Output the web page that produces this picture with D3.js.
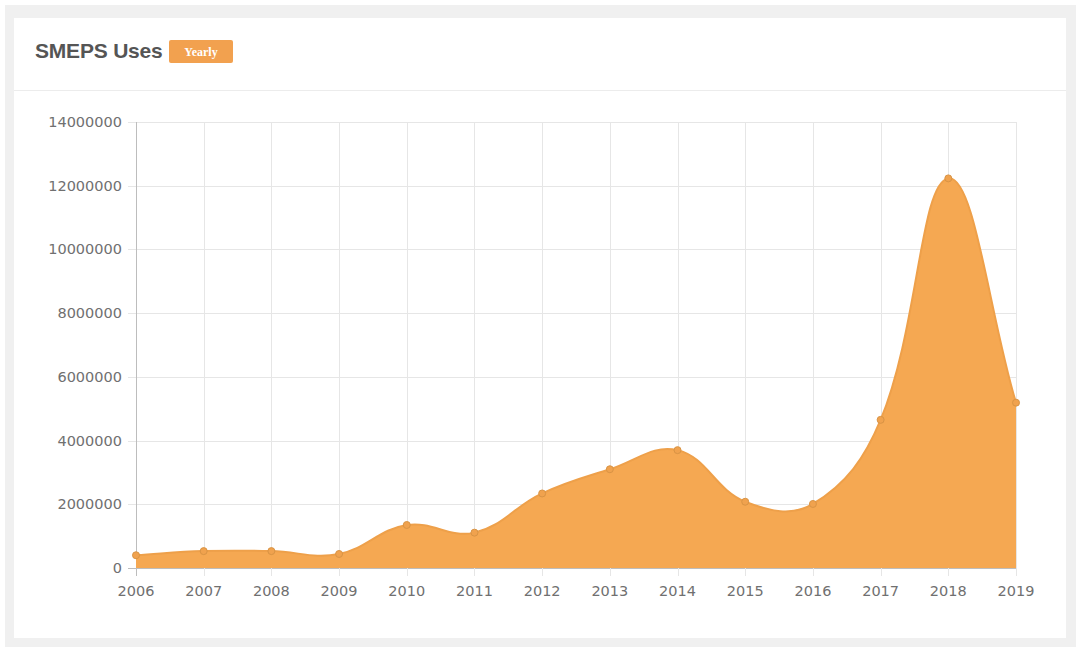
<!DOCTYPE html>
<html>
<head>
<meta charset="utf-8">
<script src="https://cdn.jsdelivr.net/npm/d3@7"></script>
<style>
html,body{margin:0;padding:0;background:#fff;}
svg{display:block;}
</style>
</head>
<body>
<svg id="chart" width="1076" height="650"></svg>
<script>
const years = ["2006","2007","2008","2009","2010","2011","2012","2013","2014","2015","2016","2017","2018","2019"];
const uses = [400000, 530000, 530000, 440000, 1350000, 1110000, 2340000, 3100000, 3700000, 2080000, 2010000, 4650000, 12230000, 5190000];
const yTicks = [0, 2000000, 4000000, 6000000, 8000000, 10000000, 12000000, 14000000];
const chartTitle = "SMEPS Uses";
const badgeText = "Yearly";

(function () {
const svg = d3.select("#chart");
const W = 1076, H = 650;
const fillColor = "#f5a852";
const lineColor = "#eea04a";
const tickFont = "DejaVu Sans, Verdana, sans-serif";

// page background and card
svg.append("rect").attr("x",0).attr("y",0).attr("width",W).attr("height",H).attr("fill","#fff");
svg.append("rect").attr("x",5).attr("y",5).attr("width",W-5).attr("height",H-8).attr("fill","#f0f0f0");
svg.append("rect").attr("x",14).attr("y",18).attr("width",1052).attr("height",620).attr("fill","#fff");
svg.append("line").attr("x1",14).attr("x2",1066).attr("y1",90.5).attr("y2",90.5).attr("stroke","#ececec").attr("stroke-width",1);

// header
svg.append("text").attr("x",35).attr("y",58).text(chartTitle)
  .attr("font-family","Liberation Sans, Arial, sans-serif").attr("font-size",21).attr("font-weight","bold").attr("fill","#555").attr("letter-spacing","-0.2");
svg.append("rect").attr("x",169).attr("y",40).attr("width",64).attr("height",23).attr("rx",2).attr("fill","#f2a14f");
svg.append("text").attr("x",201).attr("y",56).attr("text-anchor","middle").text(badgeText)
  .attr("font-family","Liberation Serif, serif").attr("font-size",12).attr("font-weight","bold").attr("fill","#fff");

const pL = 136, pR = 1016, pT = 122, pB = 568;
const x = d3.scalePoint().domain(years).range([pL, pR]);
const y = d3.scaleLinear().domain([0, 14000000]).range([pB, pT]);

// grid
const g = svg.append("g");
g.selectAll(".hg").data(yTicks).enter().append("line")
  .attr("x1", pL - 8).attr("x2", pR)
  .attr("y1", d => Math.round(y(d)) + 0.5).attr("y2", d => Math.round(y(d)) + 0.5)
  .attr("stroke", d => d === 0 ? "#bdbdbd" : "#e6e6e6").attr("stroke-width",1);
g.selectAll(".vg").data(years).enter().append("line")
  .attr("x1", d => Math.round(x(d)) + 0.5).attr("x2", d => Math.round(x(d)) + 0.5)
  .attr("y1", pT).attr("y2", pB + 8)
  .attr("stroke", (d,i) => i === 0 ? "#bdbdbd" : "#e6e6e6").attr("stroke-width",1);

// tick labels
g.selectAll(".yl").data(yTicks).enter().append("text")
  .attr("x", pL - 14).attr("y", d => y(d) + 5)
  .attr("text-anchor","end").text(d => d3.format("d")(d))
  .attr("font-family",tickFont).attr("font-size",14.5).attr("fill","#707070");
g.selectAll(".xl").data(years).enter().append("text")
  .attr("x", d => x(d)).attr("y", pB + 28)
  .attr("text-anchor","middle").text(d => d)
  .attr("font-family",tickFont).attr("font-size",14.5).attr("fill","#707070");

// Chart.js-style spline (tension 0.4)
const pts = years.map((yr,i) => [x(yr), y(uses[i])]);
const tension = 0.4;
const ctrl = pts.map((p,i) => {
  const prev = pts[i-1] || p, next = pts[i+1] || p;
  const d01 = Math.hypot(p[0]-prev[0], p[1]-prev[1]);
  const d12 = Math.hypot(next[0]-p[0], next[1]-p[1]);
  let s01 = d01/(d01+d12), s12 = d12/(d01+d12);
  if (isNaN(s01)) s01 = 0; if (isNaN(s12)) s12 = 0;
  const fa = tension*s01, fb = tension*s12;
  const cp = [p[0]-fa*(next[0]-prev[0]), p[1]-fa*(next[1]-prev[1])];
  const cn = [p[0]+fb*(next[0]-prev[0]), p[1]+fb*(next[1]-prev[1])];
  const cap = c => [Math.max(pL, Math.min(pR, c[0])), Math.max(pT, Math.min(pB, c[1]))];
  return {prev: cap(cp), next: cap(cn)};
});
function buildPath(close) {
  const p = d3.path();
  p.moveTo(pts[0][0], pts[0][1]);
  for (let i = 1; i < pts.length; i++) {
    const a = ctrl[i-1].next, b = ctrl[i].prev;
    p.bezierCurveTo(a[0], a[1], b[0], b[1], pts[i][0], pts[i][1]);
  }
  if (close) {
    p.lineTo(pts[pts.length-1][0], y(0));
    p.lineTo(pts[0][0], y(0));
    p.closePath();
  }
  return p.toString();
}
svg.append("path").attr("d", buildPath(true)).attr("fill", fillColor);
svg.append("path").attr("d", buildPath(false)).attr("fill","none").attr("stroke", lineColor).attr("stroke-width",2);

svg.selectAll(".pt").data(uses).enter().append("circle")
  .attr("cx",(d,i) => x(years[i])).attr("cy", d => y(d)).attr("r",3.5)
  .attr("fill","#f0a24e").attr("stroke","#d99445").attr("stroke-width",1);
})();
</script>
</body>
</html>
